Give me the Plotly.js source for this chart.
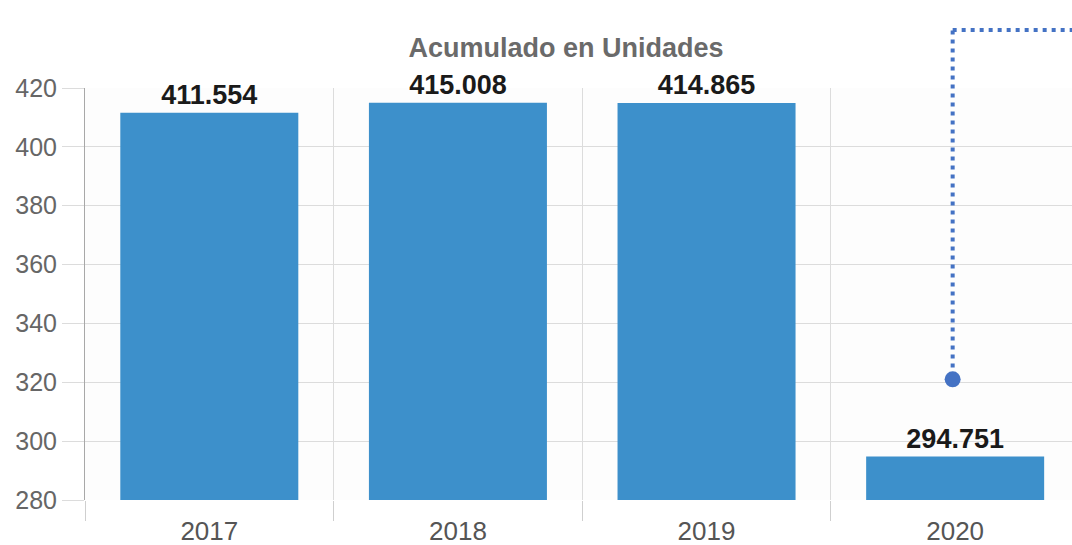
<!DOCTYPE html>
<html>
<head>
<meta charset="utf-8">
<script src="https://cdn.plot.ly/plotly-3.0.1.min.js"></script>
<style>html,body{margin:0;padding:0;background:#fff;}#chart{width:1072px;height:545px;}</style>
</head>
<body>
<div id="chart"></div>
<script>
const years = ['2017', '2018', '2019', '2020'];
const units = [411.554, 415.008, 414.865, 294.751];
const yTicks = [280, 300, 320, 340, 360, 380, 400, 420];
const chartTitle = 'Acumulado en Unidades';

const trace = {
  type: 'bar',
  x: years,
  y: units,
  marker: {color: '#3d90cb'},
  text: units.map(v => v.toFixed(3)),
  textposition: 'outside',
  textfont: {family: 'Liberation Sans, Arial, sans-serif', size: 27, color: '#1a1a1a', weight: 'bold'},
  cliponaxis: false,
  hoverinfo: 'skip'
};

const layout = {
  width: 1072, height: 545,
  margin: {l: 85, r: 0, t: 88, b: 45},
  paper_bgcolor: '#ffffff',
  plot_bgcolor: '#fdfdfd',
  showlegend: false,
  bargap: 0.284,
  font: {family: 'Liberation Sans, Arial, sans-serif'},
  title: {
    text: '<b>' + chartTitle + '</b>',
    font: {size: 27, color: '#6a6a6a'},
    x: 566 / 1072, xref: 'container', xanchor: 'center',
    y: 1 - 48 / 545, yref: 'container', yanchor: 'middle'
  },
  xaxis: {
    type: 'category',
    range: [-0.5, 3.47],
    tickson: 'boundaries',
    showgrid: true, gridcolor: '#dcdcdc', gridwidth: 1,
    ticks: 'outside', ticklen: 20, tickcolor: '#cfcfcf', tickwidth: 1,
    tickfont: {size: 26, color: '#555555'},
    ticklabelstandoff: 13,
    zeroline: false, showline: false,
    fixedrange: true
  },
  yaxis: {
    range: [280, 420],
    tickvals: yTicks,
    showgrid: true, gridcolor: '#dcdcdc', gridwidth: 1,
    ticks: 'outside', ticklen: 22, tickcolor: '#dcdcdc',
    tickfont: {size: 25, color: '#666666'},
    showline: true, linecolor: '#a8a8a8', linewidth: 1,
    zeroline: false,
    fixedrange: true
  },
  shapes: [
    {type: 'line', xref: 'x', yref: 'paper', x0: 2.99, x1: 2.99, y0: 0.30, y1: 1.1408,
     line: {color: '#4472c4', width: 4, dash: '4px,5px'}},
    {type: 'line', xref: 'x', yref: 'paper', x0: 2.99, x1: 3.47, y0: 1.1408, y1: 1.1408,
     line: {color: '#4472c4', width: 4, dash: '4px,5px'}},
    {type: 'circle', xref: 'x', yref: 'y', xsizemode: 'pixel', ysizemode: 'pixel',
     xanchor: 2.99, yanchor: 321, x0: -8, x1: 8, y0: -8, y1: 8,
     fillcolor: '#4472c4', line: {color: '#4472c4', width: 0}}
  ]
};

Plotly.newPlot('chart', [trace], layout, {displayModeBar: false, staticPlot: true});
</script>
</body>
</html>
